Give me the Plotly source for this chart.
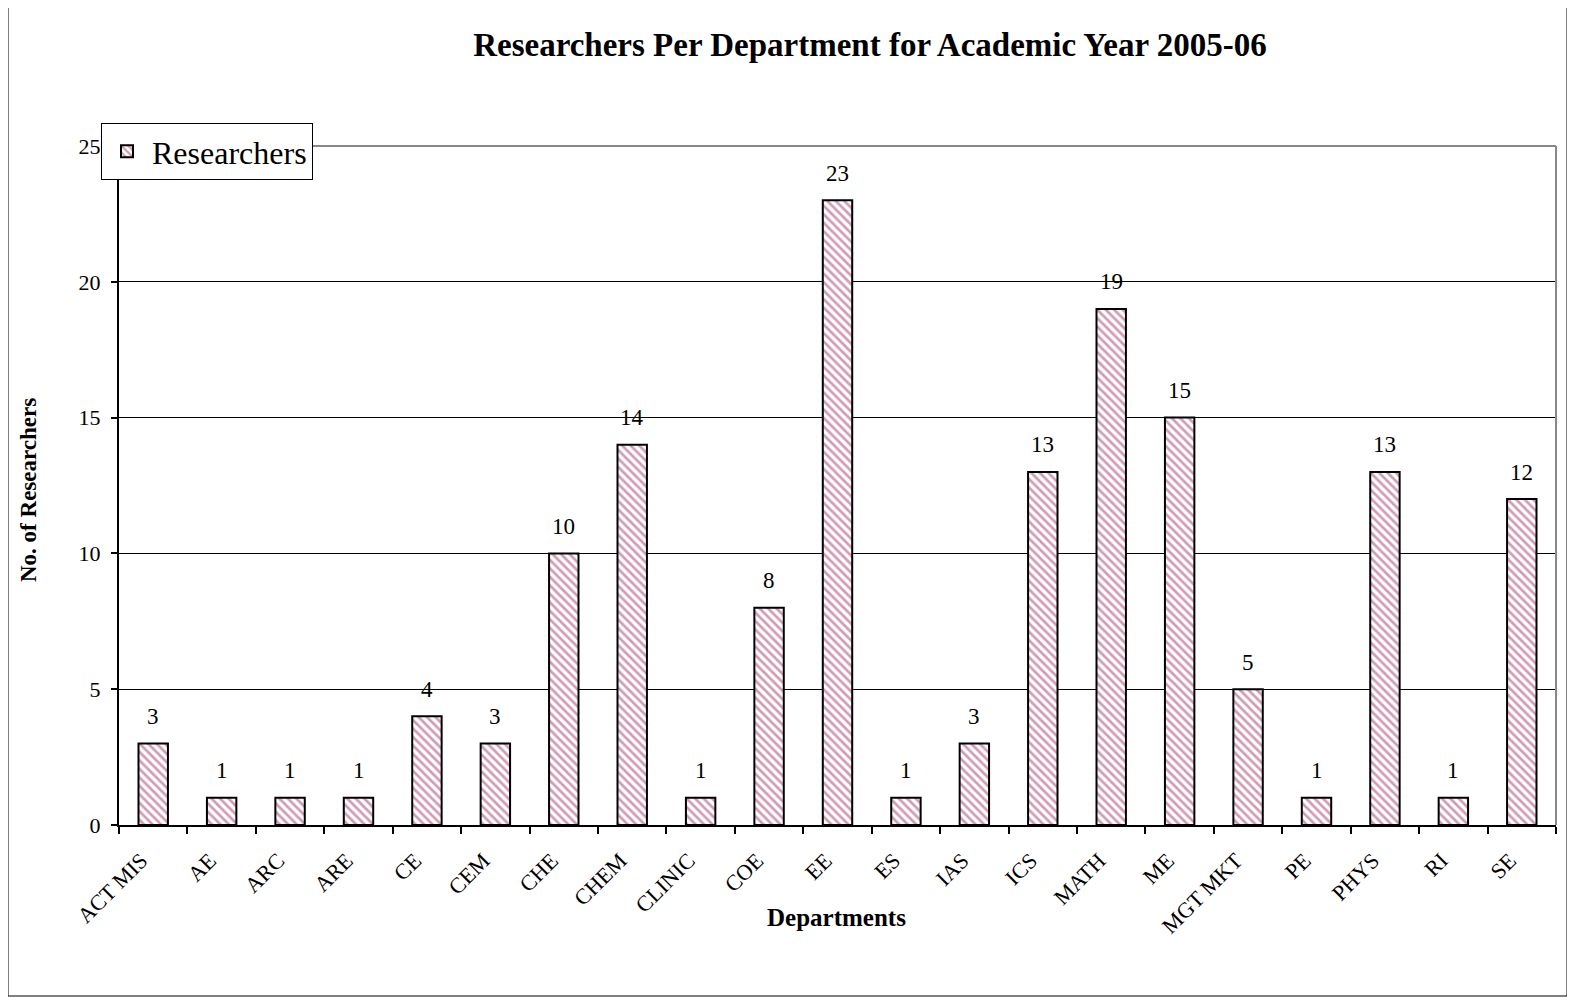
import plotly.graph_objects as go

departments = ["ACT MIS", "AE", "ARC", "ARE", "CE", "CEM", "CHE", "CHEM", "CLINIC", "COE",
               "EE", "ES", "IAS", "ICS", "MATH", "ME", "MGT MKT", "PE", "PHYS", "RI", "SE"]
researchers = [3, 1, 1, 1, 4, 3, 10, 14, 1, 8, 23, 1, 3, 13, 19, 15, 5, 1, 13, 1, 12]
y_ticks = [0, 5, 10, 15, 20, 25]

OFF = 8  # page body margin
W, H = 1567, 994
# plot area in page coordinates
PL, PR, PT, PB = 119, 1556, 146, 825
L, T = PL - OFF, PT - OFF
R = W - (PR - OFF)
B = H - (PB - OFF)
pw, ph = W - L - R, H - T - B

FONT = "Liberation Serif, Times New Roman, serif"


def px_to_paper_x(px):
    return (px - PL) / pw


def px_to_paper_y(py):
    return (PB - py) / ph


fig = go.Figure()
fig.add_trace(go.Bar(
    x=departments, y=researchers, name="Researchers", width=0.43,
    marker=dict(color="white", line=dict(color="black", width=2),
                pattern=dict(shape="\\", fgcolor="#a3386a", bgcolor="white",
                             size=6, solidity=0.45)),
    showlegend=True,
))

annotations = []
for d, v in zip(departments, researchers):
    annotations.append(dict(x=d, y=v, text=str(v), showarrow=False, xref="x", yref="y",
                            yanchor="middle", yshift=27,
                            font=dict(family=FONT, size=23, color="black")))

annotations.append(dict(text="<b>Departments</b>", showarrow=False, xref="paper", yref="paper",
                        x=px_to_paper_x(836), y=px_to_paper_y(917),
                        xanchor="center", yanchor="middle",
                        font=dict(family=FONT, size=25, color="black")))
annotations.append(dict(text="<b>No. of Researchers</b>", showarrow=False, xref="paper",
                        yref="paper", x=px_to_paper_x(28), y=px_to_paper_y(490),
                        xanchor="center", yanchor="middle", textangle=-90,
                        font=dict(family=FONT, size=23, color="black")))

shapes = [
    dict(type="rect", xref="paper", yref="paper",
         x0=px_to_paper_x(8), x1=px_to_paper_x(1567),
         y0=px_to_paper_y(996), y1=px_to_paper_y(6),
         line=dict(color="black", width=1), fillcolor="rgba(0,0,0,0)", layer="below"),
    dict(type="line", xref="paper", yref="paper", x0=0, x1=1, y0=1, y1=1,
         line=dict(color="#888888", width=2), layer="above"),
    dict(type="line", xref="paper", yref="paper", x0=1, x1=1, y0=0, y1=1,
         line=dict(color="#888888", width=2), layer="above"),
]

fig.update_layout(
    width=W, height=H,
    margin=dict(l=L, r=R, t=T, b=B, pad=0, autoexpand=False),
    paper_bgcolor="white", plot_bgcolor="white",
    font=dict(family=FONT, size=22, color="black"),
    title=dict(text="<b>Researchers Per Department for Academic Year 2005-06</b>",
               x=px_to_paper_x(870), xref="paper", xanchor="center",
               y=1 - (44 - OFF) / H, yanchor="middle",
               font=dict(family=FONT, size=33, color="black")),
    bargap=0.57,
    xaxis=dict(type="category", showline=True, linecolor="black", linewidth=2,
               ticks="outside", tickson="boundaries", ticklen=7, tickcolor="black",
               tickwidth=1.5, tickangle=-45, showgrid=False, automargin=False,
               ticklabelstandoff=12, ticklabelshift=-12,
               tickfont=dict(family=FONT, size=22)),
    yaxis=dict(range=[0, 25], tickvals=y_ticks, showline=True, linecolor="black",
               linewidth=2, ticks="outside", ticklen=6, tickcolor="black", tickwidth=1.5,
               ticklabelstandoff=6, automargin=False,
               showgrid=True, gridcolor="black", gridwidth=1, zeroline=False,
               tickfont=dict(family=FONT, size=22)),
    legend=dict(x=px_to_paper_x(101), y=px_to_paper_y(123), xanchor="left", yanchor="top",
                bgcolor="white", bordercolor="black", borderwidth=1,
                font=dict(family=FONT, size=32), itemwidth=40),
    annotations=annotations,
    shapes=shapes,
)

fig.write_html("out.html")
